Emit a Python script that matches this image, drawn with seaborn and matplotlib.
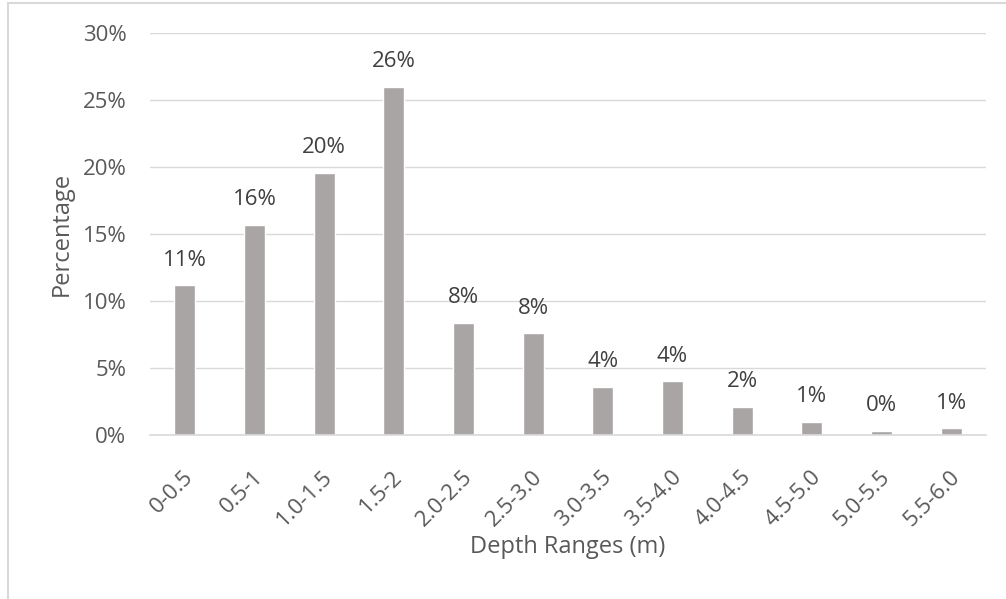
import matplotlib
matplotlib.use("Agg")
import matplotlib.pyplot as plt
import matplotlib.transforms as mtransforms
import seaborn as sns
import pandas as pd
from matplotlib.patches import Rectangle

# Share of observations in each depth range (%)
depth_ranges = ["0-0.5", "0.5-1", "1.0-1.5", "1.5-2", "2.0-2.5", "2.5-3.0",
                "3.0-3.5", "3.5-4.0", "4.0-4.5", "4.5-5.0", "5.0-5.5", "5.5-6.0"]
percentages = [11.2, 15.7, 19.6, 26.0, 8.4, 7.6, 3.6, 4.0, 2.1, 1.0, 0.3, 0.5]
y_ticks = [0, 5, 10, 15, 20, 25, 30]

sns.set_theme(style="white")
plt.rcParams["font.family"] = ["Open Sans", "DejaVu Sans"]

df = pd.DataFrame({"range": depth_ranges, "pct": percentages})

fig = plt.figure(figsize=(10.06, 5.99), dpi=100)
ax_h = (435 - 33.3) / 599
ax = fig.add_axes([150 / 1006, 1 - 435 / 599, (986 - 150) / 1006, ax_h])

bar_color = "#aaa5a5"
sns.barplot(data=df, x="range", y="pct", color=bar_color, saturation=1,
            width=0.3, ax=ax)

ax.set_ylim(0, 30)
ax.set_xlim(-0.5, len(depth_ranges) - 0.5)
ax.set_yticks(y_ticks)
ax.set_yticklabels([f"{t}%" for t in y_ticks])
ax.yaxis.grid(True, color="#d9d9d9", linewidth=1)
ax.set_axisbelow(True)
for side in ["top", "right", "left"]:
    ax.spines[side].set_visible(False)
ax.spines["bottom"].set_color("#d9d9d9")
ax.spines["bottom"].set_linewidth(1.2)

ax.tick_params(axis="y", length=0, pad=17, labelsize=16, labelcolor="#595959")
ax.tick_params(axis="x", length=0, pad=28, labelsize=16, labelcolor="#595959")
# Rotated category labels, nudged slightly right of the tick
nudge = mtransforms.ScaledTranslation(4 / 72, 0, fig.dpi_scale_trans)
for lbl in ax.get_xticklabels():
    lbl.set_rotation(45)
    lbl.set_ha("right")
    lbl.set_va("center")
    lbl.set_rotation_mode("anchor")
    lbl.set_transform(lbl.get_transform() + nudge)

ax.set_xlabel("Depth Ranges (m)", fontsize=17, color="#595959")
ax.set_ylabel("Percentage", fontsize=17, color="#595959")
ax.xaxis.set_label_coords(0.5, (435 - 547) / (ax_h * 599))
ax.xaxis.label.set_va("center")
ax.yaxis.set_label_coords((62 - 150) / 836, 0.5)
ax.yaxis.label.set_va("center")

# Value labels above the bars, rounded half up as whole percents
for i, v in enumerate(percentages):
    ax.annotate(f"{int(v + 0.5)}%", xy=(i, v), xytext=(0, 18),
                textcoords="offset points", ha="center", va="center",
                fontsize=16, color="#404040")

# Light frame along the left and top edges of the figure
frame = Rectangle((8 / 1006, -0.1), 1.2, 0.1 + 1 - 3 / 599,
                  transform=fig.transFigure, fill=False,
                  edgecolor="#d9d9d9", linewidth=1.5)
fig.patches.append(frame)

fig.savefig("out.png", dpi=100)
